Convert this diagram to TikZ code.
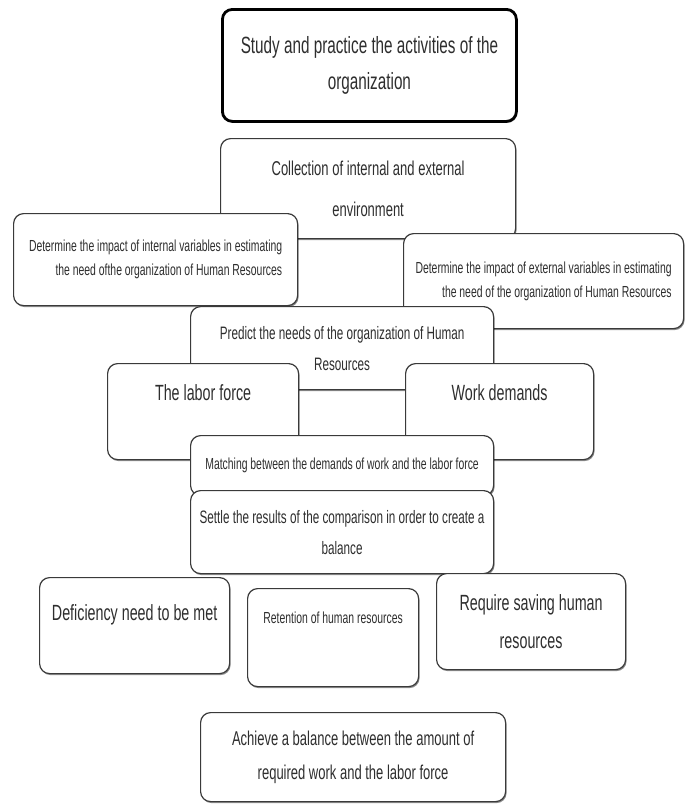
\documentclass[tikz,border=0pt]{standalone}
\usepackage{fontspec}
\setmainfont{Liberation Sans}[FakeStretch=0.65]
\usepackage{tikz}
\usetikzlibrary{shadows}
\usepackage{xcolor}
\definecolor{boxline}{HTML}{3A3A3A}
\definecolor{boxtext}{HTML}{2E2E2E}
\newcommand{\fsz}[2]{\fontsize{#1}{#2}\selectfont}
\tikzset{
  hrbox/.style={draw=boxline, line width=1.2pt, rounded corners=10pt, fill=white,
    text=boxtext, align=center, anchor=north west, inner sep=4pt,
    drop shadow={shadow xshift=1pt, shadow yshift=-1.5pt, opacity=0.45, fill=black}},
  toptext/.style 2 args={inner ysep=0pt, text height=#1, text depth=#2},
}

\begin{document}
\begin{tikzpicture}[x=1pt, y=-1pt]
\useasboundingbox (0,0) rectangle (685,804);

% Start
\node[hrbox, draw=black, line width=2.8pt, minimum width=294pt, minimum height=112pt, font=\fsz{23.5}{36}] (study) at (221,8) {Study and practice the activities of the\\organization};

% Environment
\node[hrbox, minimum width=295pt, minimum height=100pt, font=\fsz{20}{41}] (collect) at (220,138) {Collection of internal and external\\environment};

% Variables
\node[hrbox, align=right, minimum width=284pt, minimum height=92pt, font=\fsz{16}{24}] (internal) at (13,213) {Determine the impact of internal variables in estimating\\the need ofthe organization of Human Resources};
\node[hrbox, align=right, minimum width=280pt, minimum height=95pt, font=\fsz{16}{24}] (external) at (403,233) {Determine the impact of external variables in estimating\\the need of the organization of Human Resources};

% Forecast
\node[hrbox, minimum width=303pt, minimum height=83pt, font=\fsz{18}{31}] (predict) at (190,306) {Predict the needs of the organization of Human\\Resources};

% Supply and demand
\node[hrbox, toptext={37pt}{59pt}, minimum width=191pt, font=\fsz{22}{30}] (labor) at (107,363) {The labor force};
\node[hrbox, toptext={37pt}{59pt}, minimum width=188pt, font=\fsz{22}{30}] (work) at (405,363) {Work demands};

% Matching
\node[hrbox, minimum width=303pt, minimum height=60pt, font=\fsz{16}{24}] (match) at (190,435) {Matching between the demands of work and the labor force};

% Balance
\node[hrbox, minimum width=303pt, minimum height=83pt, font=\fsz{18}{31}] (settle) at (190,490) {Settle the results of the comparison in order to create a\\balance};

% Outcomes
\node[hrbox, toptext={43pt}{53pt}, minimum width=190pt, font=\fsz{22}{30}] (deficit) at (39,577) {Deficiency need to be met};
\node[hrbox, toptext={35pt}{63pt}, minimum width=171pt, font=\fsz{16}{24}] (retain) at (247,588) {Retention of human resources};
\node[hrbox, minimum width=189pt, minimum height=96pt, font=\fsz{22}{38}] (surplus) at (436,573) {Require saving human\\resources};

% Result
\node[hrbox, minimum width=305pt, minimum height=89pt, font=\fsz{20}{34}] (balance) at (200,712) {Achieve a balance between the amount of\\required work and the labor force};

\end{tikzpicture}
\end{document}
